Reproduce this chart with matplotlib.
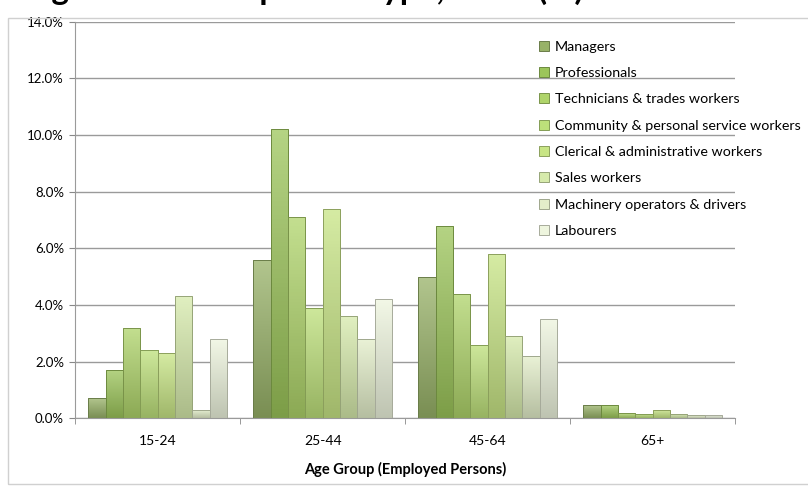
import numpy as np
import matplotlib
matplotlib.use("Agg")
import matplotlib.pyplot as plt
from matplotlib.colors import to_rgb
from matplotlib.patches import Rectangle

plt.rcParams['font.family'] = ['Lato', 'DejaVu Sans']

age_groups = ['15-24', '25-44', '45-64', '65+']
occupations = ['Managers', 'Professionals', 'Technicians & trades workers',
               'Community & personal service workers', 'Clerical & administrative workers',
               'Sales workers', 'Machinery operators & drivers', 'Labourers']

# percent of employed persons, one list per occupation (age groups in order)
managers = [0.7, 5.6, 5.0, 0.45]
professionals = [1.7, 10.2, 6.8, 0.45]
technicians = [3.2, 7.1, 4.4, 0.17]
community = [2.4, 3.9, 2.6, 0.15]
clerical = [2.3, 7.4, 5.8, 0.3]
sales = [4.3, 3.6, 2.9, 0.15]
machinery = [0.3, 2.8, 2.2, 0.1]
labourers = [2.8, 4.2, 3.5, 0.12]

series = [managers, professionals, technicians, community, clerical, sales, machinery, labourers]
colors = ['#98b268', '#9cc55a', '#afd46a', '#bde07a', '#c8e585', '#d6eaab', '#e3eec9', '#eef5de']

fig = plt.figure(figsize=(8.08, 4.96), dpi=100)
ax = fig.add_axes([0.093, 0.157, 0.817, 0.799])

# title is cropped off at the top of the screenshot, only its lower edge shows
fig.text(0.03, 1 - 5 / 496, 'Figure 17: Occupation Type, 2011 (%)', fontsize=24,
         fontweight='bold', va='bottom', ha='left', color='black')
fig.patches.append(Rectangle((8 / 808, 12 / 496), 1.0, 1 - 30 / 496, transform=fig.transFigure,
                             fill=False, edgecolor='#d0d0d0', linewidth=1.0))

x = np.arange(len(age_groups))
n = len(series)
bw = 0.84 / n

def shade(c, f):
    r = np.array(to_rgb(c))
    return tuple(np.clip(r * f, 0, 1))

def tint(c, f):
    r = np.array(to_rgb(c))
    return tuple(r + (1 - r) * f)

for i, (vals, col) in enumerate(zip(series, colors)):
    pos = x - 0.42 + bw * (i + 0.5)
    bars = ax.bar(pos, vals, bw, color=col, edgecolor=shade(col, 0.7), linewidth=0.7,
                  label=occupations[i], zorder=2)
    top = np.array(tint(col, 0.25))
    bot = np.array(shade(col, 0.8))
    grad = np.linspace(0, 1, 64)[:, None, None]
    img = bot * (1 - grad) + top * grad
    for b in bars:
        bx, by = b.get_x(), b.get_y()
        im = ax.imshow(img, extent=(bx, bx + b.get_width(), by, by + b.get_height()),
                       origin='lower', aspect='auto', zorder=2.5)
        im.set_clip_path(b)
        ax.add_patch(Rectangle((bx, by), b.get_width(), b.get_height(), fill=False,
                               edgecolor=shade(col, 0.7), linewidth=0.7, zorder=3))

ax.set_xlim(-0.5, len(age_groups) - 0.5)
ax.set_ylim(0, 14)
ax.set_yticks(np.arange(0, 15, 2))
ax.set_yticklabels([f'{v:.1f}%' for v in np.arange(0, 15, 2)], fontsize=9.5)
ax.set_xticks(x)
ax.set_xticklabels(age_groups, fontsize=10)
ax.set_xticks(np.arange(-0.5, len(age_groups)), minor=True)
ax.tick_params(axis='x', which='major', length=0, pad=12)
ax.tick_params(axis='x', which='minor', length=4, color='#888888')
ax.tick_params(axis='y', length=4, color='#888888', pad=4)
ax.set_xlabel('Age Group (Employed Persons)', fontsize=10.5, fontweight='bold', labelpad=11)
ax.yaxis.grid(True, color='#9a9a9a', linewidth=1.0, zorder=0)
ax.set_axisbelow(True)
for s in ['top', 'right']:
    ax.spines[s].set_visible(False)
ax.spines['left'].set_color('#9a9a9a')
ax.spines['bottom'].set_color('#9a9a9a')

leg = ax.legend(loc='upper left', bbox_to_anchor=(0.683, 0.985), frameon=False, fontsize=10.3,
                handlelength=0.7, handleheight=0.7, handletextpad=0.4, labelspacing=1.0)
leg.set_zorder(5)

fig.savefig('out.png', dpi=100, facecolor='white')
